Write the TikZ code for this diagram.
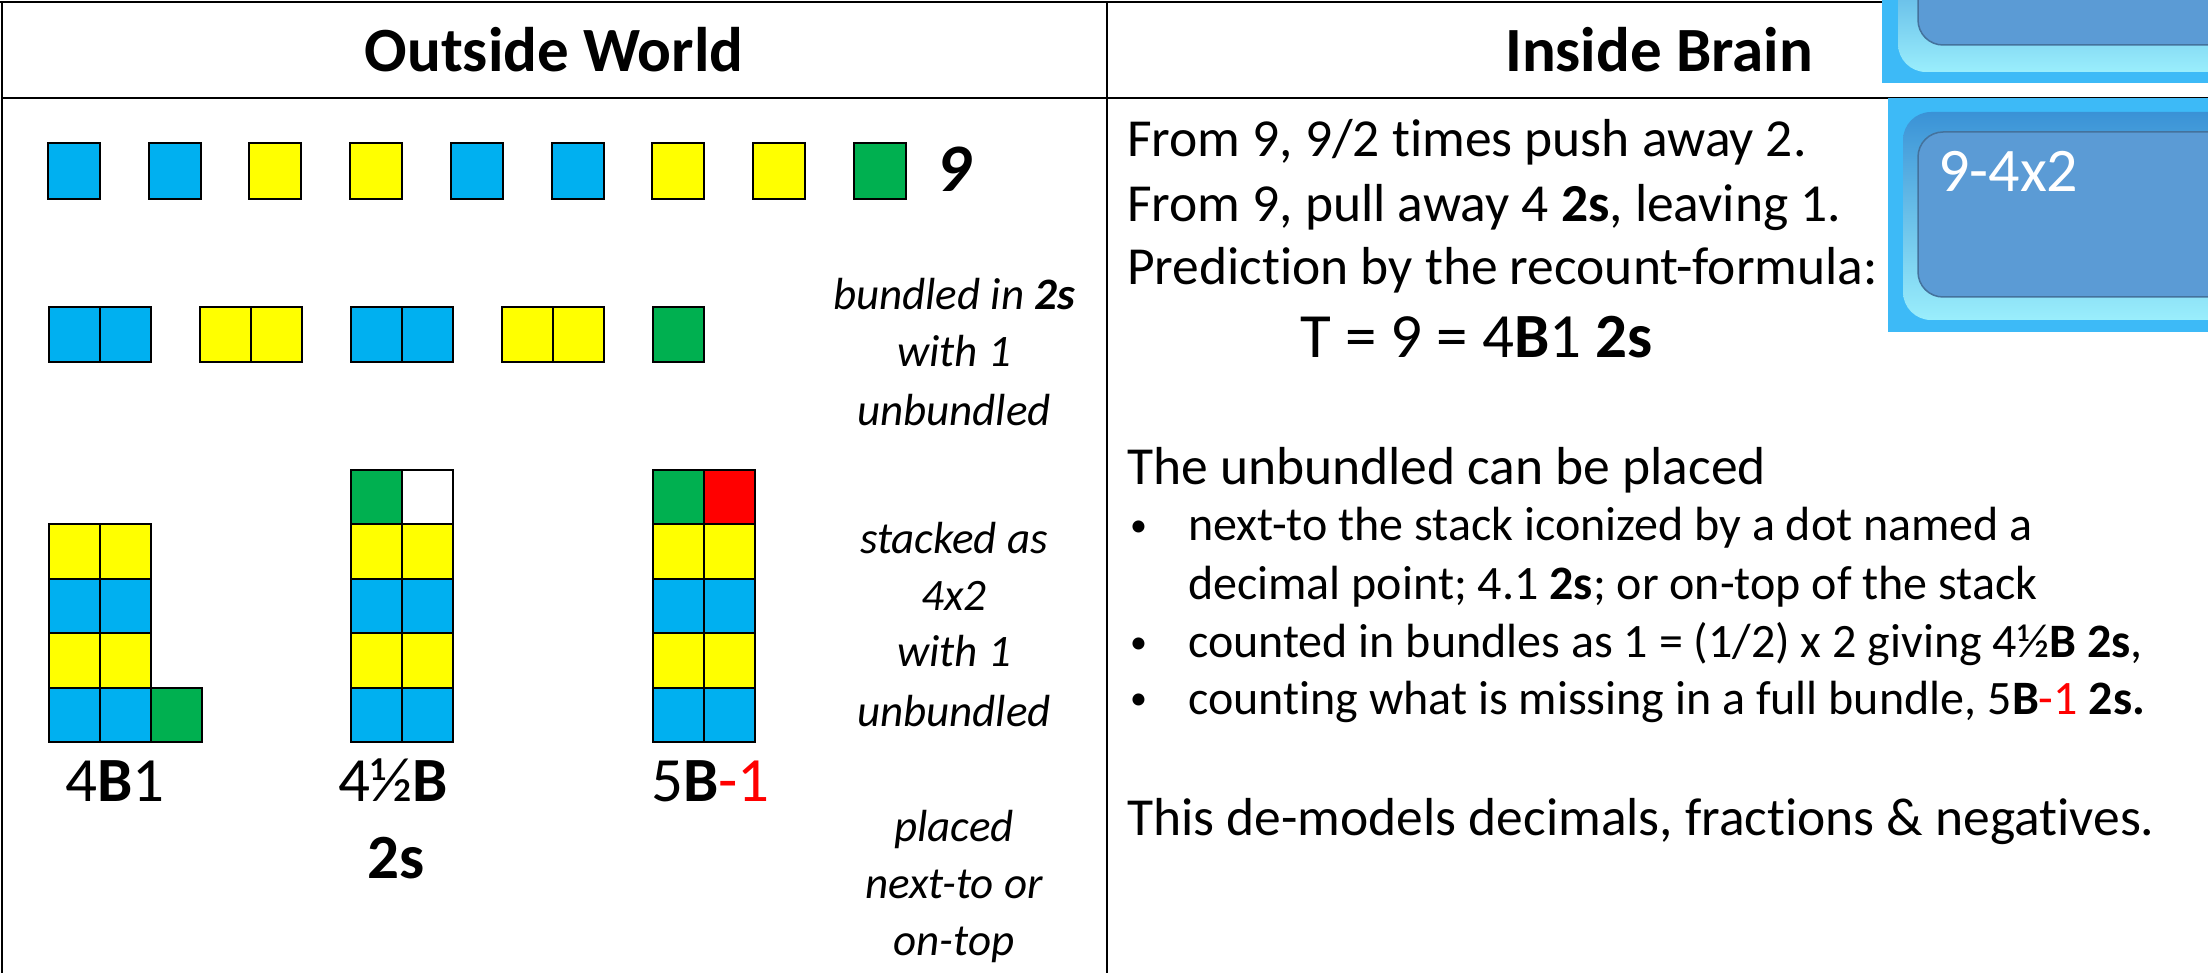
\documentclass[tikz,border=0pt]{standalone}
\usepackage{fontspec}
\setmainfont{Carlito}[Ligatures=NoCommon]
\definecolor{cb}{HTML}{00B0F0}
\definecolor{cy}{HTML}{FFFF00}
\definecolor{cg}{HTML}{00B050}
\definecolor{cr}{HTML}{FF0000}
\definecolor{keyrim}{HTML}{3DBAF7}
\definecolor{keyface}{HTML}{5B9BD5}
\definecolor{keyedge}{HTML}{44729C}
\definecolor{keydark}{HTML}{3A92D6}
\definecolor{keylight}{HTML}{9AEEFC}
\newcommand\fsz[1]{\fontsize{#1}{#1}\selectfont}
\tikzset{
  hdr/.style={font={\fsz{63}\bfseries}, inner sep=0pt, anchor=base},
  body/.style={font={\fsz{53.5}}, inner sep=0pt, anchor=base west},
  item/.style={font={\fsz{48}}, inner sep=0pt, anchor=base west},
  dot/.style={font={\fsz{34}}, inner sep=0pt, anchor=base west},
  big/.style={font={\fsz{63}}, inner sep=0pt, anchor=base west},
  note/.style={font={\fsz{45}\itshape}, inner sep=0pt, anchor=base},
  lbl/.style={font={\fsz{63}}, inner sep=0pt, anchor=base west},
  tile/.style={draw=black, line width=2pt},
  rule/.style={line width=2.5pt},
}
\begin{document}
\begin{tikzpicture}[x=1pt,y=-1pt]
\useasboundingbox (0,0) rectangle (2208,973);
\fill[white] (0,0) rectangle (2208,973);

% table rules
\draw[rule] (0,2) -- (2208,2);
\draw[rule] (2,2) -- (2,973);
\draw[rule] (2,98) -- (2208,98);
\draw[rule] (1107,2) -- (1107,973);

% column headers
\node[hdr] (hout) at (554,71.7) {Outside World};
\node[hdr] (hin) at (1659,71.7) {Inside Brain};

% nine single tiles
\foreach \c [count=\i from 0] in {cb,cb,cy,cy,cb,cb,cy,cy,cg}
  \filldraw[tile, fill=\c] ({48+100.7*\i},143.5) rectangle ++(52,55.5);
\node[font={\fsz{68}\bfseries\itshape}, inner sep=0pt, anchor=base west] (nine) at (936,192) {9};

% tiles bundled in pairs
\foreach \x/\c in {48.75/cb,99.75/cb,199.6/cy,250.6/cy,350.5/cb,401.5/cb,501.9/cy,552.9/cy,652.8/cg}
  \filldraw[tile, fill=\c] (\x,307) rectangle ++(51,55);

% three stacks
\foreach \y/\c in {524/cy,578.5/cb,633/cy,687.5/cb} {
  \filldraw[tile, fill=\c] (49,\y) rectangle ++(51,54.5);
  \filldraw[tile, fill=\c] (100,\y) rectangle ++(51,54.5);
  \filldraw[tile, fill=\c] (351,\y) rectangle ++(51,54.5);
  \filldraw[tile, fill=\c] (402,\y) rectangle ++(51,54.5);
  \filldraw[tile, fill=\c] (652.5,\y) rectangle ++(51,54.5);
  \filldraw[tile, fill=\c] (703.5,\y) rectangle ++(51,54.5);
}
\filldraw[tile, fill=cg] (151,687.5) rectangle ++(51,54.5);
\filldraw[tile, fill=cg] (351,469.5) rectangle ++(51,54.5);
\filldraw[tile, fill=white] (402,469.5) rectangle ++(51,54.5);
\filldraw[tile, fill=cg] (652.5,469.5) rectangle ++(51,54.5);
\filldraw[tile, fill=cr] (703.5,469.5) rectangle ++(51,54.5);

% stack labels
\node[lbl] (la) at (65,801.7) {4\textbf{B}1};
\node[lbl] (lb) at (338,801.7) {4½\textbf{B}};
\node[lbl, font={\fsz{63}\bfseries}, anchor=base] (lbs) at (396,878) {2s};
\node[lbl] (lc) at (651,801.7) {5\textbf{B}\textcolor{cr}{-1}};

% italic captions
\node[note] (n1) at (954,310) {bundled in \textbf{2s}};
\node[note] (n2) at (954,366.7) {with 1};
\node[note] (n3) at (954,425) {unbundled};
\node[note] (n4) at (954,553.3) {stacked as};
\node[note] (n5) at (954,610) {4x2};
\node[note] (n6) at (954,666.7) {with 1};
\node[note] (n7) at (954,726.7) {unbundled};
\node[note] (n8) at (954,841.7) {placed};
\node[note] (n9) at (954,898) {next-to or};
\node[note] (n10) at (954,955) {on-top};

% right column text
\node[body] (t1) at (1127,156.7) {From 9, 9/2 times push away 2.};
\node[body] (t2) at (1127,221.7) {From 9, pull away 4 \textbf{2s}, leaving 1.};
\node[body] (t3) at (1127,285) {Prediction by the recount-formula:};
\node[big] (t4) at (1300,358) {T = 9 = 4\textbf{B}1 \textbf{2s}};
\node[body] (t5) at (1127,484) {The unbundled can be placed};
\node[dot] (d1) at (1130,536) {•};
\node[item] (b1) at (1188,540.7) {next-to the stack iconized by a dot named a};
\node[item] (b1b) at (1188,599) {decimal point; 4.1 \textbf{2s}; or on-top of the stack};
\node[dot] (d2) at (1130,653) {•};
\node[item] (b2) at (1188,657.7) {counted in bundles as 1 = (1/2) x 2 giving 4½\textbf{B 2s},};
\node[dot] (d3) at (1130,709.5) {•};
\node[item] (b3) at (1188,714) {counting what is missing in a full bundle, 5\textbf{B}\textcolor{cr}{-1} \textbf{2s.}};
\node[body] (t6) at (1127,835) {This de-models decimals, fractions \& negatives.};

% upper key button (partly visible)
\begin{scope}
  \clip (1882,0) rectangle (2208,83);
  \fill[keyrim] (1882,0) rectangle (2208,83);
  \shade[top color=keydark, bottom color=keylight, rounded corners=28pt] (1898,-80) rectangle (2300,72);
  \filldraw[fill=keyface, draw=keyedge, line width=1.5pt, rounded corners=25pt] (1918,-80) rectangle (2300,45);
\end{scope}

% lower key button with its label
\begin{scope}
  \clip (1888,98) rectangle (2208,332);
  \fill[keyrim] (1888,98) rectangle (2208,332);
  \shade[top color=keydark, bottom color=keylight, rounded corners=28pt] (1903,112) rectangle (2300,320);
  \filldraw[fill=keyface, draw=keyedge, line width=1.5pt, rounded corners=25pt] (1918,132) rectangle (2300,297);
\end{scope}
\node[font={\fsz{62}}, text=white, inner sep=0pt, anchor=base west] (key) at (1938,192) {9-4x2};

\end{tikzpicture}
\end{document}
